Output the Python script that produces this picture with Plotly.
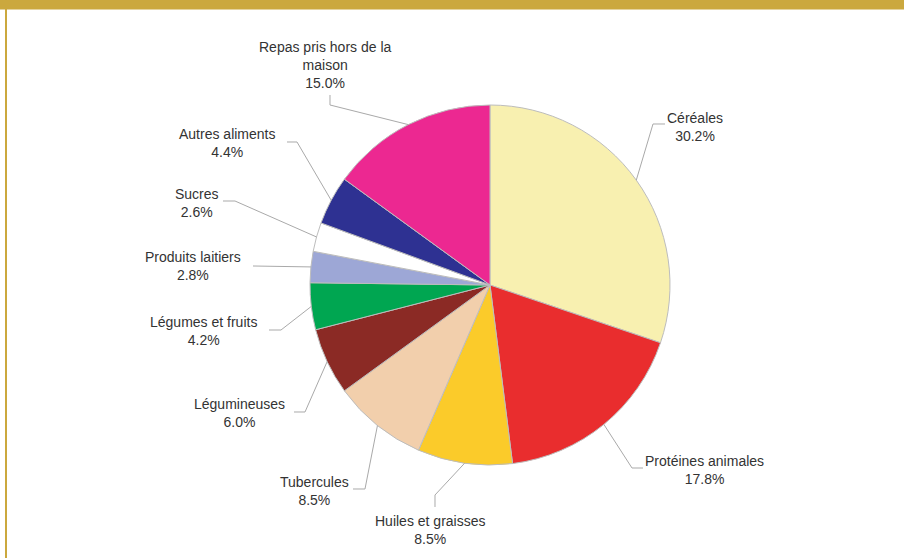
import math
import plotly.graph_objects as go

# ---- data ----
categories = ["Céréales", "Protéines animales", "Huiles et graisses", "Tubercules",
              "Légumineuses", "Légumes et fruits", "Produits laitiers", "Sucres",
              "Autres aliments", "Repas pris hors de la maison"]
values = [30.2, 17.8, 8.5, 8.5, 6.0, 4.2, 2.8, 2.6, 4.4, 15.0]
label_lines = ["Céréales", "Protéines animales", "Huiles et graisses", "Tubercules",
               "Légumineuses", "Légumes et fruits", "Produits laitiers", "Sucres",
               "Autres aliments", "Repas pris hors de la<br>maison"]

# ---- styles / layout ----
colors = ["#F8F0B0", "#E92D2E", "#FBCB2A", "#F2CFAC", "#8B2A25",
          "#00A651", "#9DA7D6", "#FFFFFF", "#2E3192", "#EC2891"]
W, H = 904, 558
CX, CY, R = 490, 285, 180
GOLD = "#CBA83E"
TEXT = "#333333"
LINE = "#A9A9A9"

# label centres (pixels) and leader-line bend points (pixels)
label_pos = [(695, 127), (704, 470), (430, 530), (314, 491), (239, 413),
             (203, 331), (193, 266), (197, 203), (227, 143), (325, 65)]
leader_bends = [[(653, 124), (665, 124)], [(632, 468), (643, 468)],
                [(435, 495), (435, 507)], [(365, 489), (353, 489)],
                [(305, 412), (294, 412)], [(281, 330), (269, 330)],
                [(253, 266)], [(235, 201), (223, 201)],
                [(297, 142), (287, 142)], [(330, 105), (330, 95)]]


def px(x):
    return x / W


def py(y):
    return 1 - y / H


fig = go.Figure(go.Pie(
    labels=categories, values=values, sort=False, direction="clockwise",
    rotation=0, textinfo="none", hoverinfo="label+percent",
    marker=dict(colors=colors, line=dict(color="#BDBDBD", width=1)),
    domain=dict(x=[px(CX - R), px(CX + R)], y=[py(CY + R), py(CY - R)]),
    showlegend=False,
))

shapes = []
annotations = []
total = sum(values)
cum = 0.0
for v, lab, pos, bends in zip(values, label_lines, label_pos, leader_bends):
    mid = (cum + v / 2) / total * 2 * math.pi
    cum += v
    ex = CX + R * math.sin(mid)
    ey = CY - R * math.cos(mid)
    pts = [(ex, ey)] + bends
    path = "M " + " L ".join(f"{px(x):.5f},{py(y):.5f}" for x, y in pts)
    shapes.append(dict(type="path", path=path, xref="paper", yref="paper",
                       line=dict(color=LINE, width=1), layer="above"))
    annotations.append(dict(
        x=px(pos[0]), y=py(pos[1]), xref="paper", yref="paper",
        text=f"{lab}<br>{v:.1f}%", showarrow=False, align="center",
        xanchor="center", yanchor="middle",
        font=dict(family="Liberation Sans, Arial, sans-serif", size=14, color=TEXT)))

# gold frame
shapes.append(dict(type="rect", xref="paper", yref="paper", x0=0, x1=1,
                   y0=py(9.5), y1=1, fillcolor=GOLD, line=dict(width=0), layer="above"))
shapes.append(dict(type="line", xref="paper", yref="paper", x0=px(6), x1=px(6),
                   y0=0, y1=py(9), line=dict(color=GOLD, width=2), layer="above"))

fig.update_layout(
    width=W, height=H, margin=dict(l=0, r=0, t=0, b=0),
    paper_bgcolor="white", plot_bgcolor="white",
    shapes=shapes, annotations=annotations,
)

fig.write_html("out.html", config={"displayModeBar": False},
               post_script="document.body.style.margin='0';document.body.style.overflow='hidden';")
